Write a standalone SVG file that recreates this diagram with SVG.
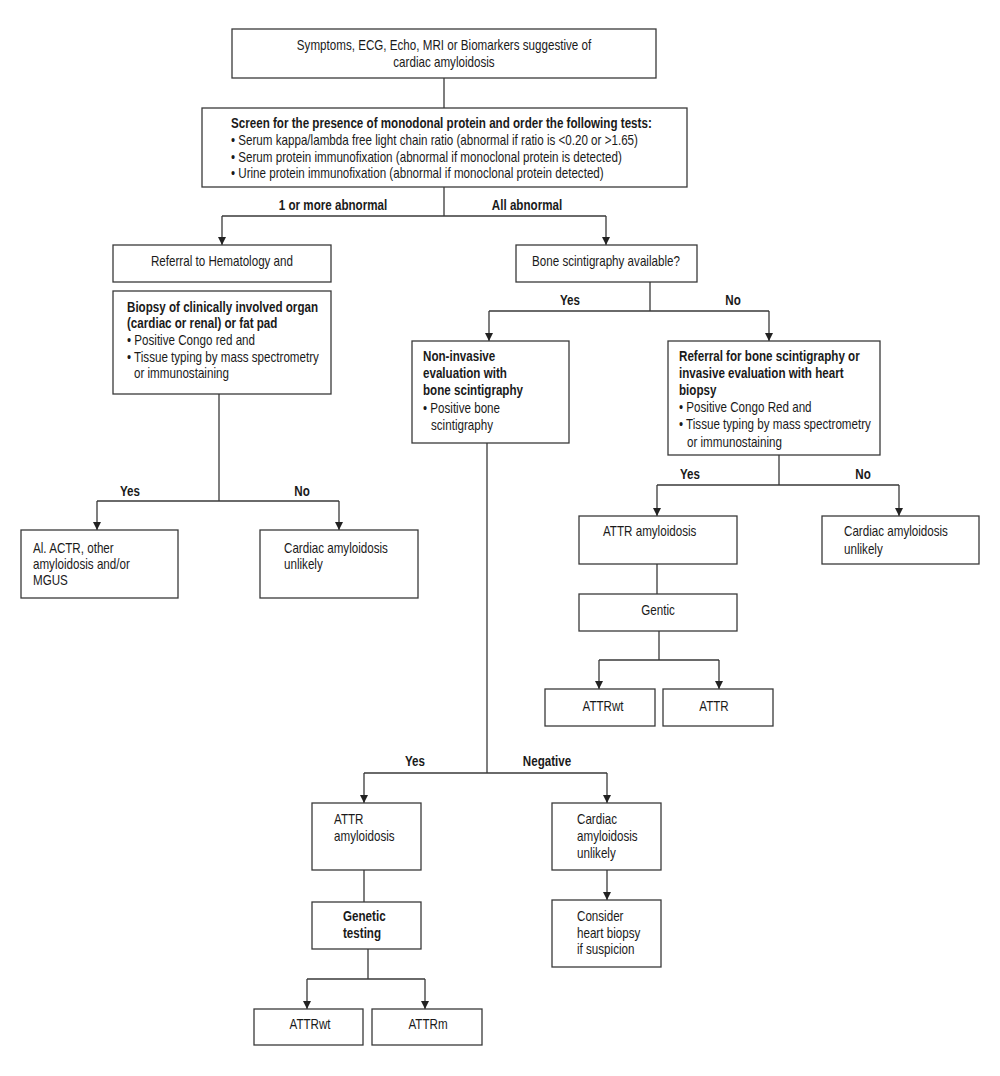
<svg xmlns="http://www.w3.org/2000/svg" width="1000" height="1076" viewBox="0 0 1000 1076">
<defs>
<marker id="arr" markerUnits="userSpaceOnUse" viewBox="0 0 8 8" refX="8" refY="4" markerWidth="8" markerHeight="8" orient="auto">
<path d="M0,0 L8,4 L0,8 z" fill="#222"/>
</marker>
<style>
rect{fill:#fff;stroke:#3a3a3a;stroke-width:1.3}
text{font-family:"Liberation Sans",Arial,sans-serif;font-size:14px;fill:#1a1a1a;transform-box:fill-box;transform-origin:0% 50%;transform:scaleX(0.83)}
.b{font-weight:bold}
.c{text-anchor:middle;transform-origin:50% 50%}
.ln{fill:none;stroke:#3a3a3a;stroke-width:1.3}
.ar{fill:none;stroke:#3a3a3a;stroke-width:1.3;marker-end:url(#arr)}
</style>
</defs>
<rect x="0" y="0" width="1000" height="1076" style="fill:#fff;stroke:none"/>
<g id="connectors">
<path class="ln" d="M444,78V108M444,187V216M222,216H606"/>
<path class="ar" d="M222,216V245"/>
<path class="ar" d="M606,216V245"/>
<text class="b c" x="333" y="210">1 or more abnormal</text>
<text class="b c" x="527" y="210">All abnormal</text>
<path class="ln" d="M650,282V311M489,311H769"/>
<path class="ar" d="M489,311V341"/>
<path class="ar" d="M769,311V341"/>
<text class="b c" x="570" y="305">Yes</text>
<text class="b c" x="733" y="305">No</text>
<path class="ln" d="M219,394V501M97,501H339"/>
<path class="ar" d="M97,501V530"/>
<path class="ar" d="M339,501V530"/>
<text class="b c" x="130" y="496">Yes</text>
<text class="b c" x="302" y="496">No</text>
<path class="ln" d="M779,455V485M657,485H899"/>
<path class="ar" d="M657,485V516"/>
<path class="ar" d="M899,485V516"/>
<text class="b c" x="690" y="479">Yes</text>
<text class="b c" x="863" y="479">No</text>
<path class="ln" d="M657,564V594M659,631V660M599,660H719"/>
<path class="ar" d="M599,660V689"/>
<path class="ar" d="M719,660V689"/>
<path class="ln" d="M487,443V773M364,773H607"/>
<path class="ar" d="M364,773V803"/>
<path class="ar" d="M607,773V803"/>
<text class="b c" x="415" y="766">Yes</text>
<text class="b c" x="547" y="766">Negative</text>
<path class="ln" d="M364,870V902M368,949V979M307,979H425"/>
<path class="ar" d="M307,979V1009"/>
<path class="ar" d="M425,979V1009"/>
<path class="ar" d="M607,870V900"/>
</g>
<g id="n-start">
<rect x="232" y="29" width="424" height="49"/>
<text class="c" x="444" y="50">Symptoms, ECG, Echo, MRI or Biomarkers suggestive of</text>
<text class="c" x="444" y="67">cardiac amyloidosis</text>
</g>
<g id="n-screen">
<rect x="202" y="108" width="485" height="79"/>
<text class="b" x="231" y="128">Screen for the presence of monodonal protein and order the following tests:</text>
<text x="231" y="145">• Serum kappa/lambda free light chain ratio (abnormal if ratio is &lt;0.20 or &gt;1.65)</text>
<text x="231" y="162">• Serum protein immunofixation (abnormal if monoclonal protein is detected)</text>
<text x="231" y="178">• Urine protein immunofixation (abnormal if monoclonal protein detected)</text>
</g>
<g id="n-hematology">
<rect x="113" y="245" width="218" height="37"/>
<text class="c" x="222" y="266">Referral to Hematology and</text>
</g>
<g id="n-biopsy">
<rect x="113" y="291" width="218" height="103"/>
<text class="b" x="127" y="312">Biopsy of clinically involved organ</text>
<text class="b" x="127" y="328">(cardiac or renal) or fat pad</text>
<text x="127" y="345">• Positive Congo red and</text>
<text x="127" y="362">• Tissue typing by mass spectrometry</text>
<text x="134" y="378">or immunostaining</text>
</g>
<g id="n-bone">
<rect x="516" y="245" width="181" height="37"/>
<text class="c" x="606" y="266">Bone scintigraphy available?</text>
</g>
<g id="n-noninvasive">
<rect x="412" y="341" width="157" height="102"/>
<text class="b" x="423" y="361">Non-invasive</text>
<text class="b" x="423" y="378">evaluation with</text>
<text class="b" x="423" y="395">bone scintigraphy</text>
<text x="423" y="413">• Positive bone</text>
<text x="431" y="430">scintigraphy</text>
</g>
<g id="n-referral-bone">
<rect x="668" y="341" width="212" height="114"/>
<text class="b" x="679" y="361">Referral for bone scintigraphy or</text>
<text class="b" x="679" y="378">invasive evaluation with heart</text>
<text class="b" x="679" y="395">biopsy</text>
<text x="679" y="412">• Positive Congo Red and</text>
<text x="679" y="429">• Tissue typing by mass spectrometry</text>
<text x="687" y="447">or immunostaining</text>
</g>
<g id="n-al">
<rect x="21" y="530" width="157" height="68"/>
<text x="33" y="553">Al. ACTR, other</text>
<text x="33" y="569">amyloidosis and/or</text>
<text x="33" y="585">MGUS</text>
</g>
<g id="n-unlikely-left">
<rect x="260" y="530" width="158" height="68"/>
<text x="284" y="553">Cardiac amyloidosis</text>
<text x="284" y="569">unlikely</text>
</g>
<g id="n-attr-right">
<rect x="579" y="516" width="158" height="48"/>
<text x="603" y="536">ATTR amyloidosis</text>
</g>
<g id="n-unlikely-right">
<rect x="822" y="516" width="157" height="48"/>
<text x="844" y="536">Cardiac amyloidosis</text>
<text x="844" y="554">unlikely</text>
</g>
<g id="n-gentic">
<rect x="579" y="594" width="158" height="37"/>
<text class="c" x="658" y="615">Gentic</text>
</g>
<g id="n-attrwt-right">
<rect x="545" y="689" width="110" height="37"/>
<text class="c" x="603" y="711">ATTRwt</text>
</g>
<g id="n-attr">
<rect x="663" y="689" width="110" height="37"/>
<text class="c" x="714" y="711">ATTR</text>
</g>
<g id="n-attr-bottom">
<rect x="312" y="803" width="109" height="67"/>
<text x="334" y="824">ATTR</text>
<text x="334" y="841">amyloidosis</text>
</g>
<g id="n-genetic">
<rect x="312" y="902" width="109" height="47"/>
<text class="b" x="343" y="921">Genetic</text>
<text class="b" x="343" y="938">testing</text>
</g>
<g id="n-attrwt-bottom">
<rect x="254" y="1009" width="109" height="36"/>
<text class="c" x="310" y="1029">ATTRwt</text>
</g>
<g id="n-attrm">
<rect x="372" y="1009" width="110" height="36"/>
<text class="c" x="428" y="1029">ATTRm</text>
</g>
<g id="n-unlikely-bottom">
<rect x="552" y="803" width="109" height="67"/>
<text x="577" y="824">Cardiac</text>
<text x="577" y="841">amyloidosis</text>
<text x="577" y="858">unlikely</text>
</g>
<g id="n-consider">
<rect x="552" y="900" width="109" height="67"/>
<text x="577" y="921">Consider</text>
<text x="577" y="938">heart biopsy</text>
<text x="577" y="954">if suspicion</text>
</g>
</svg>
